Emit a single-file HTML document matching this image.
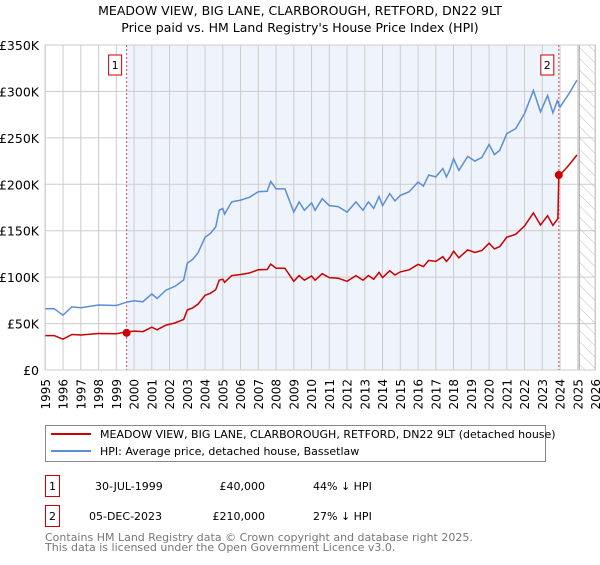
<!DOCTYPE html>
<html><head><meta charset="utf-8"><style>
body{margin:0;background:#fff;font-family:"Liberation Sans","DejaVu Sans",sans-serif;}
svg text{font-family:"DejaVu Sans","Liberation Sans",sans-serif;}
</style></head><body>
<svg id="chart" width="600" height="560" xmlns="http://www.w3.org/2000/svg">
<defs><pattern id="hatch" width="8" height="8" patternUnits="userSpaceOnUse" patternTransform="rotate(-45)"><line x1="0" y1="0" x2="0" y2="8" stroke="#bbb" stroke-width="1"/></pattern></defs>
<text x="300" y="15" text-anchor="middle" font-size="12.5" fill="#000">MEADOW VIEW, BIG LANE, CLARBOROUGH, RETFORD, DN22 9LT</text>
<text x="300" y="32" text-anchor="middle" font-size="12.5" fill="#000">Price paid vs. HM Land Registry's House Price Index (HPI)</text>
<g id="plot"></g>
<g>
<rect x="45.5" y="425.5" width="500" height="36" fill="#fff" stroke="#888"/>
<line x1="51" y1="434" x2="91" y2="434" stroke="#cc0000" stroke-width="2"/>
<text x="100" y="438" font-size="11">MEADOW VIEW, BIG LANE, CLARBOROUGH, RETFORD, DN22 9LT (detached house)</text>
<line x1="51" y1="451" x2="91" y2="451" stroke="#5b8fd4" stroke-width="2"/>
<text x="100" y="455" font-size="11">HPI: Average price, detached house, Bassetlaw</text>
</g>
<g>
<rect x="45.5" y="475.5" width="14" height="21" fill="#fff" stroke="#cc0000"/>
<text x="52.5" y="490" text-anchor="middle" font-size="11">1</text>
<text x="95" y="490" font-size="11">30-JUL-1999</text>
<text x="265" y="490" text-anchor="end" font-size="11">£40,000</text>
<text x="313" y="490" font-size="11">44% ↓ HPI</text>
<rect x="45.5" y="505.5" width="14" height="21" fill="#fff" stroke="#cc0000"/>
<text x="52.5" y="520" text-anchor="middle" font-size="11">2</text>
<text x="89" y="520" font-size="11">05-DEC-2023</text>
<text x="265" y="520" text-anchor="end" font-size="11">£210,000</text>
<text x="313" y="520" font-size="11">27% ↓ HPI</text>
</g>
<text x="45" y="541" font-size="11" fill="#777">Contains HM Land Registry data © Crown copyright and database right 2025.</text>
<text x="45" y="551" font-size="11" fill="#777">This data is licensed under the Open Government Licence v3.0.</text>
</svg>
<script>
const years=[1995,1995.5,1996,1996.5,1997,1998,1999,1999.6,2000,2000.5,2001,2001.3,2001.8,2002.3,2002.8,2003,2003.3,2003.6,2004,2004.3,2004.6,2004.8,2005,2005.1,2005.5,2006,2006.5,2007,2007.5,2007.7,2008,2008.5,2009,2009.3,2009.6,2010,2010.2,2010.6,2011,2011.5,2012,2012.5,2012.9,2013.2,2013.5,2013.8,2014,2014.4,2014.7,2015,2015.5,2016,2016.3,2016.6,2017,2017.4,2017.6,2017.8,2018,2018.3,2018.8,2019.2,2019.6,2020,2020.3,2020.6,2021,2021.5,2022,2022.5,2022.9,2023.3,2023.6,2023.85,2024,2024.5,2024.95];
const hpiValues=[66,66,59,68,67,70,69.5,73,74.5,73.5,82,77,86,90,97,115,119,126,143,147,154,172,174,168,181,183,186,192,192.5,203,195,195,170,181,172,180,172,184.5,177,176,170,181,172,181,174,187,177,190,182,188,192,202.5,198,210,208,217,208,216,227.5,215,230,225,229,243,232,236.5,254.5,260,276,301,278,295.7,277,290,283,297.5,312];
const propYears=[1995,1995.5,1996,1996.5,1997,1998,1999,1999.6,2000,2000.5,2001,2001.3,2001.8,2002.3,2002.8,2003,2003.3,2003.6,2004,2004.3,2004.6,2004.8,2005,2005.1,2005.5,2006,2006.5,2007,2007.5,2007.7,2008,2008.5,2009,2009.3,2009.6,2010,2010.2,2010.6,2011,2011.5,2012,2012.5,2012.9,2013.2,2013.5,2013.8,2014,2014.4,2014.7,2015,2015.5,2016,2016.3,2016.6,2017,2017.4,2017.6,2017.8,2018,2018.3,2018.8,2019.2,2019.6,2020,2020.3,2020.6,2021,2021.5,2022,2022.5,2022.9,2023.3,2023.6,2023.88,2023.93,2024,2024.5,2024.95];
const propValues=[37.1,37.1,33.2,38.2,37.7,39.3,39.1,41,41.9,41.3,46.1,43.3,48.3,50.6,54.5,64.6,66.9,70.8,80.4,82.6,86.5,96.7,97.8,94.4,101.7,102.8,104.5,107.9,108.2,114.1,109.6,109.6,95.5,101.7,96.7,101.2,96.7,103.7,99.5,98.9,95.5,101.7,96.7,101.7,97.8,105.1,99.5,106.8,102.3,105.7,107.9,113.8,111.3,118,116.9,122,116.9,121.4,127.9,120.8,129.3,126.5,128.7,136.6,130.4,132.9,143,146.1,155.1,169.2,156.2,166.2,155.7,163,210,210,220.7,231.5];
const saleYears=[1999.58,2023.93];
const saleValues=[40,210];
const saleLabels=["1","2"];
const yTicks=[0,50,100,150,200,250,300,350];
const yTickLabels=["£0","£50K","£100K","£150K","£200K","£250K","£300K","£350K"];
const xTicks=[1995,1996,1997,1998,1999,2000,2001,2002,2003,2004,2005,2006,2007,2008,2009,2010,2011,2012,2013,2014,2015,2016,2017,2018,2019,2020,2021,2022,2023,2024,2025,2026];

const X0=45.3,YR=17.75,Y0=370,YK=325/350,L=45,R=595,T=45;
const xs=y=>X0+(y-1995)*YR;
const ys=v=>Y0-v*YK;
const NS="http://www.w3.org/2000/svg";
const g=document.getElementById('plot');
function mk(tag,at){const e=document.createElementNS(NS,tag);for(const k in at)e.setAttribute(k,at[k]);g.appendChild(e);return e;}
let e;
e=mk('rect',{x:xs(saleYears[0]),y:T,width:xs(saleYears[1])-xs(saleYears[0]),height:Y0-T,fill:'#eef3fc'});


e=mk('rect',{x:xs(2025.08),y:T,width:R-xs(2025.08),height:Y0-T,fill:'url(#hatch)'});


xTicks.forEach(t=>{
 e=mk('line',{x1:xs(t),x2:xs(t),y1:T,y2:Y0,stroke:'#ccc','stroke-width':1});
 
 
 e=mk('text',{x:0,y:0,transform:`translate(${xs(t)+4.5},${Y0+9}) rotate(-90)`,'text-anchor':'end','font-size':'12'});
 e.textContent=t;
 
 
});
yTicks.forEach((t,i)=>{
 e=mk('line',{x1:L,x2:R,y1:ys(t),y2:ys(t),stroke:'#ccc','stroke-width':1});
 
 
 e=mk('text',{x:39,y:ys(t)+5,'text-anchor':'end','font-size':'12.5'});
 e.textContent=yTickLabels[i];
 
 
});
e=mk('line',{x1:xs(2025.08),x2:xs(2025.08),y1:T,y2:Y0,stroke:'#999','stroke-width':1});


e=mk('rect',{x:L,y:T,width:R-L,height:Y0-T,fill:'none',stroke:'#ccc'});


saleYears.forEach((s,i)=>{
 e=mk('line',{x1:xs(s),x2:xs(s),y1:T,y2:Y0,stroke:'#e05050','stroke-width':1,'stroke-dasharray':'2,2'});
 
 
 e=mk('rect',{x:xs(s)-18,y:55,width:13,height:20,fill:'#fff',stroke:'#cc0000'});
 
 
 e=mk('text',{x:xs(s)-11.5,y:69,'text-anchor':'middle','font-size':'11'});
 e.textContent=saleLabels[i];
 
 
});
e=mk('path',{d:years.map((y,i)=>(i?'L':'M')+xs(y).toFixed(1)+','+ys(hpiValues[i]).toFixed(1)).join(''),fill:'none',stroke:'#5b8fd4','stroke-width':1.5});


e=mk('path',{d:propYears.map((y,i)=>(i?'L':'M')+xs(y).toFixed(1)+','+ys(propValues[i]).toFixed(1)).join(''),fill:'none',stroke:'#cc0000','stroke-width':1.5});


saleYears.forEach((s,i)=>{
 e=mk('circle',{cx:xs(s),cy:ys(saleValues[i]),r:4,fill:'#cc0000'});
 
 
});
</script>
</body></html>
